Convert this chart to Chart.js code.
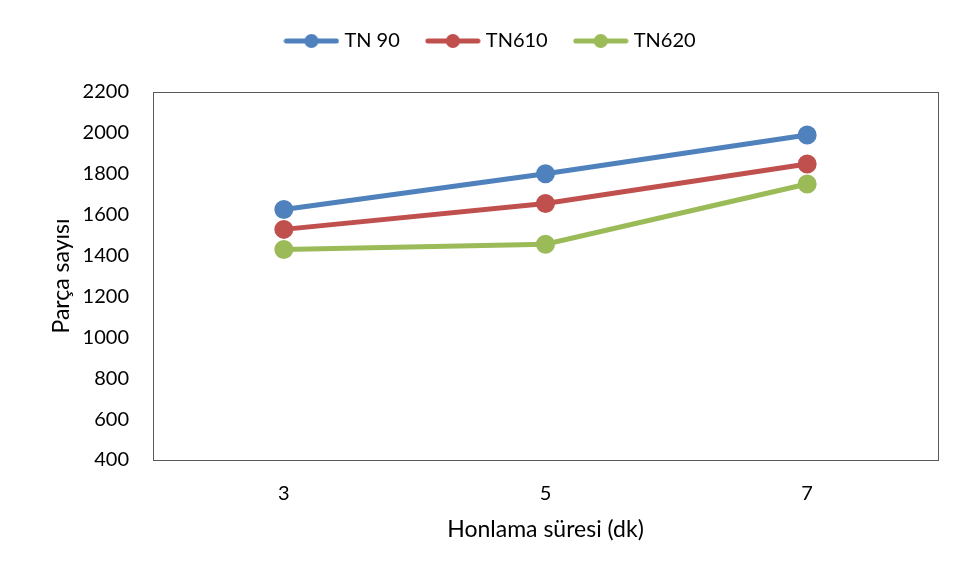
<!DOCTYPE html>
<html>
<head>
<meta charset="utf-8">
<script src="https://cdn.jsdelivr.net/npm/chart.js@4.4.0/dist/chart.umd.min.js"></script>
<style>
  html, body { margin: 0; padding: 0; background: #fff; }
  #wrap { width: 958px; height: 576px; position: relative; }
</style>
</head>
<body>
<div id="wrap"><canvas id="chart"></canvas></div>
<script>
// ---- data ----
const durations = ['3', '5', '7'];
const tn90 = [1625, 1800, 1990];
const tn610 = [1528, 1655, 1848];
const tn620 = [1430, 1455, 1750];
const yTicks = [400, 600, 800, 1000, 1200, 1400, 1600, 1800, 2000, 2200];

const FONT = "Lato, 'Open Sans', sans-serif";
const TEXT = '#000000';

// legend marker: short line with a dot, like the spreadsheet legend
function legendMarker(color) {
  const c = document.createElement('canvas');
  c.width = 56; c.height = 16;
  const g = c.getContext('2d');
  g.strokeStyle = color;
  g.lineWidth = 5;
  g.lineCap = 'round';
  g.beginPath(); g.moveTo(3, 8); g.lineTo(53, 8); g.stroke();
  g.fillStyle = color;
  g.beginPath(); g.arc(28, 8, 7, 0, Math.PI * 2); g.fill();
  return c;
}

// frame round the plot area
const plotFrame = {
  id: 'plotFrame',
  afterDraw(chart) {
    const a = chart.chartArea, ctx = chart.ctx;
    ctx.save();
    ctx.strokeStyle = '#595959';
    ctx.lineWidth = 1;
    ctx.strokeRect(Math.round(a.left) + 0.5, Math.round(a.top) + 0.5,
      Math.round(a.right - a.left), Math.round(a.bottom - a.top));
    ctx.restore();
  }
};

// extra space under the legend
const legendGap = {
  id: 'legendGap',
  beforeInit(chart) {
    const fit = chart.legend.fit;
    chart.legend.fit = function () {
      fit.call(this);
      this.height += 31;
    };
  }
};

function series(label, data, color) {
  return {
    label, data,
    borderColor: color,
    backgroundColor: color,
    pointBackgroundColor: color,
    pointBorderColor: color,
    pointRadius: 7,
    pointHoverRadius: 7,
    borderWidth: 5,
    tension: 0,
    pointStyle: 'circle',
    marker: legendMarker(color)
  };
}

new Chart(document.getElementById('chart'), {
  type: 'line',
  data: {
    labels: durations,
    datasets: [
      series('TN 90', tn90, '#4f81bd'),
      series('TN610', tn610, '#c0504d'),
      series('TN620', tn620, '#9bbb59')
    ]
  },
  options: {
    responsive: true,
    maintainAspectRatio: false,
    animation: false,
    layout: { padding: { left: 46, right: 20, top: 1, bottom: 29 } },
    plugins: {
      tooltip: { enabled: false },
      legend: {
        position: 'top',
        labels: {
          color: TEXT,
          font: { family: FONT, size: 20 },
          usePointStyle: true,
          pointStyleWidth: 46,
          padding: 30,
          generateLabels(chart) {
            return chart.data.datasets.map((ds, i) => ({
              text: ds.label,
              pointStyle: ds.marker,
              fillStyle: ds.borderColor,
              strokeStyle: ds.borderColor,
              lineWidth: 0,
              fontColor: TEXT,
              datasetIndex: i,
              hidden: false
            }));
          }
        }
      }
    },
    scales: {
      x: {
        type: 'category',
        offset: true,
        afterFit(scale) { scale.height = 576 - 460 - 29; },
        grid: { display: false, drawTicks: false },
        border: { display: false },
        ticks: { color: TEXT, font: { family: FONT, size: 20 }, padding: 22 },
        title: {
          display: true,
          text: 'Honlama süresi (dk)',
          color: TEXT,
          font: { family: FONT, size: 23 },
          padding: { top: 0, bottom: 4 }
        }
      },
      y: {
        min: 400,
        max: 2200,
        afterBuildTicks(scale) { scale.ticks = yTicks.map(v => ({ value: v })); },
        afterFit(scale) { scale.width = 153 - 46; },
        grid: { display: false, drawTicks: false },
        border: { display: false },
        ticks: {
          color: TEXT,
          font: { family: FONT, size: 20 },
          padding: 24,
          callback: v => String(v)
        },
        title: {
          display: true,
          text: 'Parça sayısı',
          color: TEXT,
          font: { family: FONT, size: 23 },
          padding: { top: 2 }
        }
      }
    }
  },
  plugins: [plotFrame, legendGap]
});
</script>
</body>
</html>
